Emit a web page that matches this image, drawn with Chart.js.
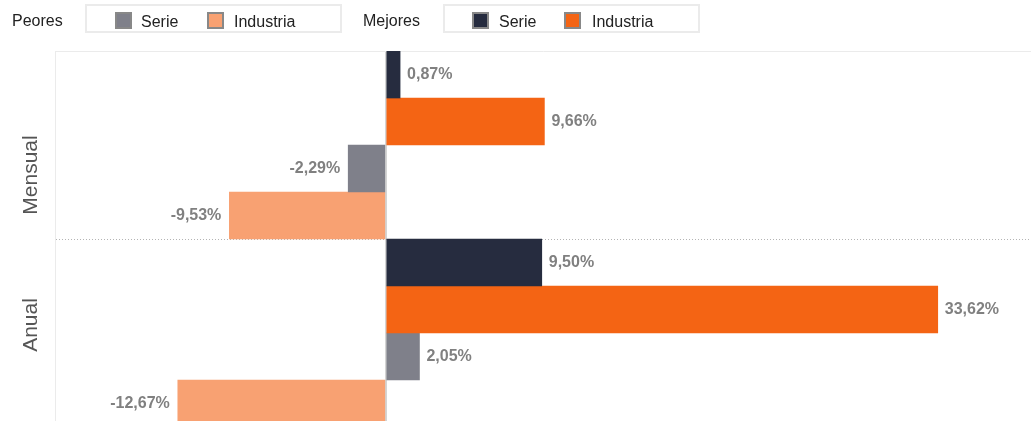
<!DOCTYPE html>
<html>
<head>
<meta charset="utf-8">
<script src="https://cdn.jsdelivr.net/npm/chart.js@4"></script>
<style>
    html, body { margin: 0; padding: 0; overflow: hidden; background: #fff; }
    body { width: 1031px; height: 421px; position: relative; font-family: "Liberation Sans", Arial, sans-serif; }
    #wrap { position: absolute; left: 0; top: 0; width: 1031px; height: 427px; }
    .lbl { position: absolute; font-size: 16px; color: #222; }
    .box { position: absolute; top: 4px; height: 25px; border: 2px solid #ebebeb; }
    .sw { position: absolute; top: 12px; width: 13px; height: 13px; border: 2px solid #888; }
    .txt { position: absolute; top: 13px; font-size: 16px; color: #222; }
</style>
</head>
<body>
<div id="wrap"><canvas id="chart"></canvas></div>

<div class="lbl" style="left:12px; top:12px;">Peores</div>
<div class="box" style="left:85px; width:253px;"></div>
<div class="sw" style="left:115px; background:#7f808a;"></div>
<div class="txt" style="left:141px;">Serie</div>
<div class="sw" style="left:207px; background:#f8a172;"></div>
<div class="txt" style="left:234px;">Industria</div>

<div class="lbl" style="left:363px; top:12px;">Mejores</div>
<div class="box" style="left:443px; width:253px;"></div>
<div class="sw" style="left:472px; background:#262c3f;"></div>
<div class="txt" style="left:499px;">Serie</div>
<div class="sw" style="left:564px; background:#f46414;"></div>
<div class="txt" style="left:592px;">Industria</div>

<script>
const categories = ["Mensual", "Anual"];
const mejoresSerie = [0.87, 9.50];
const mejoresIndustria = [9.66, 33.62];
const peoresSerie = [-2.29, 2.05];
const peoresIndustria = [-9.53, -12.67];

const fmt = v => v.toFixed(2).replace(".", ",") + "%";

// value labels at the end of every bar
const valueLabels = {
    id: "valueLabels",
    afterDatasetsDraw(chart) {
        const ctx = chart.ctx;
        ctx.save();
        ctx.font = "bold 16px 'Liberation Sans', Arial, sans-serif";
        ctx.fillStyle = "#808080";
        ctx.textBaseline = "middle";
        chart.data.datasets.forEach((ds, i) => {
            chart.getDatasetMeta(i).data.forEach((bar, j) => {
                const v = ds.data[j];
                if (v >= 0) {
                    ctx.textAlign = "left";
                    ctx.fillText(fmt(v), bar.x + 7, bar.y);
                } else {
                    ctx.textAlign = "right";
                    ctx.fillText(fmt(v), bar.x - 8, bar.y);
                }
            });
        });
        ctx.restore();
    }
};

// rotated category names on the left
const categoryNames = {
    id: "categoryNames",
    afterDraw(chart) {
        const ctx = chart.ctx;
        const y = chart.scales.y;
        const shift = [30, -8];
        ctx.save();
        ctx.font = "21px 'Liberation Sans', Arial, sans-serif";
        ctx.fillStyle = "#555";
        ctx.textAlign = "center";
        ctx.textBaseline = "middle";
        categories.forEach((c, i) => {
            ctx.save();
            ctx.translate(31, y.getPixelForValue(i) + shift[i]);
            ctx.rotate(-Math.PI / 2);
            ctx.fillText(c, 0, 0);
            ctx.restore();
        });
        ctx.restore();
    }
};

new Chart(document.getElementById("chart"), {
    type: "bar",
    data: {
        labels: categories,
        datasets: [
            { label: "Mejores Serie", data: mejoresSerie, backgroundColor: "#262c3f" },
            { label: "Mejores Industria", data: mejoresIndustria, backgroundColor: "#f46414" },
            { label: "Peores Serie", data: peoresSerie, backgroundColor: "#7f808a" },
            { label: "Peores Industria", data: peoresIndustria, backgroundColor: "#f8a172" }
        ]
    },
    options: {
        indexAxis: "y",
        responsive: true,
        maintainAspectRatio: false,
        animation: false,
        layout: { padding: { top: 51, left: 0, right: 0, bottom: 0 } },
        datasets: {
            bar: { barPercentage: 1, categoryPercentage: 1, borderWidth: 0 }
        },
        plugins: {
            legend: { display: false },
            tooltip: { enabled: false }
        },
        scales: {
            x: {
                position: "top",
                min: -20.15,
                max: 39.3,
                ticks: { display: false, stepSize: 10 },
                grid: {
                    drawTicks: false,
                    lineWidth: 2,
                    color: c => (c.tick && c.tick.value === 0) ? "#d4d4d4" : "transparent"
                },
                border: { display: true, color: "#ebebeb" },
                afterFit: s => { s.height = 0; }
            },
            y: {
                ticks: { display: false },
                grid: {
                    drawTicks: false,
                    offset: true,
                    color: c => c.index === 1 ? "#b4b4b4" : "transparent"
                },
                border: { display: true, color: "#ebebeb", dash: [1, 2] },
                afterFit: s => { s.width = 55; }
            }
        }
    },
    plugins: [valueLabels, categoryNames]
});
</script>
</body>
</html>
